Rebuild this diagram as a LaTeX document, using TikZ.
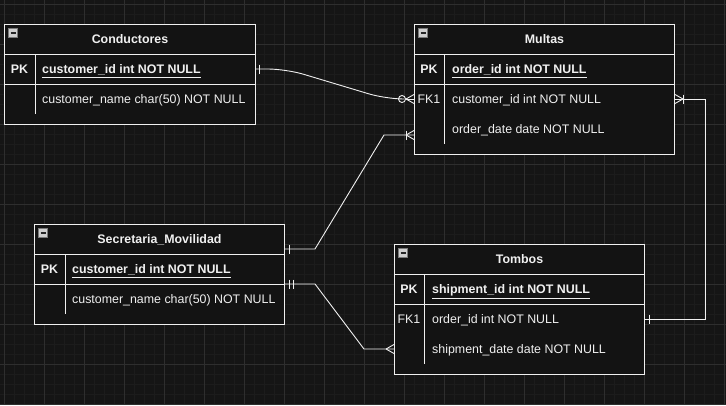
\documentclass[tikz,border=0pt]{standalone}
\usepackage{fontspec}
\setmainfont{Liberation Sans}
\usetikzlibrary{calc}
\definecolor{bg}{HTML}{151515}
\definecolor{minorg}{HTML}{1C1C1C}
\definecolor{majorg}{HTML}{2E2E2E}
\definecolor{boxfill}{HTML}{131313}
\definecolor{ln}{HTML}{F0F0F0}
\definecolor{iconfill}{HTML}{D0D0D0}
\definecolor{iconedge}{HTML}{7A7A7A}
\newcommand\pkfield[1]{\textbf{\underline{#1}}}
\begin{document}
\begin{tikzpicture}[x=1pt,y=-1pt,
  font=\fontsize{12.4}{14}\selectfont,
  tbl/.style={draw=ln, fill=boxfill, line width=1pt, inner sep=0pt, anchor=north west},
  sep/.style={draw=ln, line width=1pt},
  txt/.style={text=ln, inner sep=0pt, text height=8.6pt, text depth=0pt, yshift=-0.6pt},
  hdr/.style={txt, font=\fontsize{12.4}{14}\selectfont\bfseries},
  keyb/.style={txt, font=\fontsize{12.4}{14}\selectfont\bfseries},
  keyn/.style={txt},
  fld/.style={txt, anchor=west},
  conn/.style={draw=ln, line width=0.9pt},
  icon/.style={draw=iconedge, fill=iconfill, line width=0.6pt},
  iconbar/.style={draw=black!85, line width=1.6pt}]
\useasboundingbox (0,0) rectangle (726,405);
\fill[bg] (0,0) rectangle (726,405);
\foreach \x in {4,14,...,724} \draw[minorg, line width=0.8pt] (\x,0) -- (\x,405);
\foreach \y in {4,14,...,404} \draw[minorg, line width=0.8pt] (0,\y) -- (726,\y);
\foreach \x in {4,44,...,724} \draw[majorg, line width=0.8pt] (\x,0) -- (\x,405);
\foreach \y in {4,44,...,404} \draw[majorg, line width=0.8pt] (0,\y) -- (726,\y);

% ---------- Conductores ----------
\node[tbl, minimum width=251pt, minimum height=100pt] (cond) at (4,24) {};
\draw[sep] ($(cond.north west)+(0,30)$) -- ($(cond.north east)+(0,30)$);
\draw[sep] ($(cond.north west)+(0,60)$) -- ($(cond.north east)+(0,60)$);
\draw[sep] ($(cond.north west)+(31,30)$) -- ($(cond.north west)+(31,90)$);
\draw[icon] ($(cond.north west)+(4.5,4.5)$) rectangle ++(9,9);
\draw[iconbar] ($(cond.north west)+(6.5,9)$) -- ++(5,0);
\node[hdr] (condh) at ($(cond.north)+(0,15)$) {Conductores};
\node[keyb] (condk) at ($(cond.north west)+(15.5,45)$) {PK};
\node[fld] (condpk) at ($(cond.north west)+(38,45)$) {\pkfield{customer\_id int NOT NULL}};
\node[fld] (condf2) at ($(cond.north west)+(38,75)$) {customer\_name char(50) NOT NULL};

% ---------- Multas ----------
\node[tbl, minimum width=260pt, minimum height=130pt] (mul) at (414,24) {};
\draw[sep] ($(mul.north west)+(0,30)$) -- ($(mul.north east)+(0,30)$);
\draw[sep] ($(mul.north west)+(0,60)$) -- ($(mul.north east)+(0,60)$);
\draw[sep] ($(mul.north west)+(30,30)$) -- ($(mul.north west)+(30,120)$);
\draw[icon] ($(mul.north west)+(4.5,4.5)$) rectangle ++(9,9);
\draw[iconbar] ($(mul.north west)+(6.5,9)$) -- ++(5,0);
\node[hdr] (mulh) at ($(mul.north)+(0,15)$) {Multas};
\node[keyb] (mulk1) at ($(mul.north west)+(15,45)$) {PK};
\node[keyn] (mulk2) at ($(mul.north west)+(15,75)$) {FK1};
\node[fld] (mulpk) at ($(mul.north west)+(38,45)$) {\pkfield{order\_id int NOT NULL}};
\node[fld] (mulfk) at ($(mul.north west)+(38,75)$) {customer\_id int NOT NULL};
\node[fld] (muldate) at ($(mul.north west)+(38,105)$) {order\_date date NOT NULL};

% ---------- Secretaria_Movilidad ----------
\node[tbl, minimum width=250pt, minimum height=100pt] (sec) at (34,224) {};
\draw[sep] ($(sec.north west)+(0,30)$) -- ($(sec.north east)+(0,30)$);
\draw[sep] ($(sec.north west)+(0,60)$) -- ($(sec.north east)+(0,60)$);
\draw[sep] ($(sec.north west)+(31,30)$) -- ($(sec.north west)+(31,90)$);
\draw[icon] ($(sec.north west)+(4.5,4.5)$) rectangle ++(9,9);
\draw[iconbar] ($(sec.north west)+(6.5,9)$) -- ++(5,0);
\node[hdr] (sech) at ($(sec.north)+(0,15)$) {Secretaria\_Movilidad};
\node[keyb] (seck) at ($(sec.north west)+(15.5,45)$) {PK};
\node[fld] (secpk) at ($(sec.north west)+(38,45)$) {\pkfield{customer\_id int NOT NULL}};
\node[fld] (secf2) at ($(sec.north west)+(38,75)$) {customer\_name char(50) NOT NULL};

% ---------- Tombos ----------
\node[tbl, minimum width=250pt, minimum height=130pt] (tom) at (394,244) {};
\draw[sep] ($(tom.north west)+(0,30)$) -- ($(tom.north east)+(0,30)$);
\draw[sep] ($(tom.north west)+(0,60)$) -- ($(tom.north east)+(0,60)$);
\draw[sep] ($(tom.north west)+(30,30)$) -- ($(tom.north west)+(30,120)$);
\draw[icon] ($(tom.north west)+(4.5,4.5)$) rectangle ++(9,9);
\draw[iconbar] ($(tom.north west)+(6.5,9)$) -- ++(5,0);
\node[hdr] (tomh) at ($(tom.north)+(0,15)$) {Tombos};
\node[keyb] (tomk1) at ($(tom.north west)+(15,45)$) {PK};
\node[keyn] (tomk2) at ($(tom.north west)+(15,75)$) {FK1};
\node[fld] (tompk) at ($(tom.north west)+(38,45)$) {\pkfield{shipment\_id int NOT NULL}};
\node[fld] (tomfk) at ($(tom.north west)+(38,75)$) {order\_id int NOT NULL};
\node[fld] (tomdate) at ($(tom.north west)+(38,105)$) {shipment\_date date NOT NULL};

% ---------- Connector 1: Conductores -> Multas (one to zero-or-many) ----------
\coordinate (c1a) at ($(cond.north east)+(0,45)$);
\coordinate (c1b) at ($(mul.north west)+(0,75)$);
\draw[conn, rounded corners=18pt] (c1a) -- ($(c1a)+(30,0)$) -- ($(c1b)+(-28,0)$) -- ($(c1b)+(-15.5,0)$);
\draw[conn] ($(c1a)+(3.5,-4.5)$) -- ($(c1a)+(3.5,4.5)$);
\draw[conn] ($(c1b)+(-12,0)$) circle (3.5pt);
\draw[conn] ($(c1b)+(-8.5,0)$) -- (c1b);
\draw[conn] ($(c1b)+(-8,0)$) -- ($(c1b)+(0,-4.5)$);
\draw[conn] ($(c1b)+(-8,0)$) -- ($(c1b)+(0,4.5)$);

% ---------- Connector 2: Secretaria -> Multas (one to one-or-many) ----------
\coordinate (c2a) at ($(sec.north east)+(0,25)$);
\coordinate (c2b) at ($(mul.south west)+(0,-20)$);
\draw[conn] (c2a) -- ($(c2a)+(30,0)$) -- ($(c2b)+(-30,0)$) -- (c2b);
\draw[conn] ($(c2a)+(4,-4.5)$) -- ($(c2a)+(4,4.5)$);
\draw[conn] ($(c2b)+(-8,-4.5)$) -- ($(c2b)+(-8,4.5)$);
\draw[conn] ($(c2b)+(-8,0)$) -- ($(c2b)+(0,-4.5)$);
\draw[conn] ($(c2b)+(-8,0)$) -- ($(c2b)+(0,4.5)$);

% ---------- Connector 3: Secretaria -> Tombos (mandatory one to many) ----------
\coordinate (c3a) at ($(sec.north east)+(0,60)$);
\coordinate (c3b) at ($(tom.north west)+(0,105)$);
\draw[conn] (c3a) -- ($(c3a)+(30,0)$) -- ($(c3b)+(-30,0)$) -- (c3b);
\draw[conn] ($(c3a)+(4,-4.5)$) -- ($(c3a)+(4,4.5)$);
\draw[conn] ($(c3a)+(8,-4.5)$) -- ($(c3a)+(8,4.5)$);
\draw[conn] ($(c3b)+(-8,0)$) -- ($(c3b)+(0,-4.5)$);
\draw[conn] ($(c3b)+(-8,0)$) -- ($(c3b)+(0,4.5)$);

% ---------- Connector 4: Tombos -> Multas (one to one-or-many) ----------
\coordinate (c4a) at ($(tom.north east)+(0,75)$);
\coordinate (c4b) at ($(mul.north east)+(0,75)$);
\draw[conn] (c4a) -- ($(c4a)+(60,0)$) -- ($(c4b)+(30,0)$) -- (c4b);
\draw[conn] ($(c4a)+(4,-4.5)$) -- ($(c4a)+(4,4.5)$);
\draw[conn] ($(c4b)+(8,-4.5)$) -- ($(c4b)+(8,4.5)$);
\draw[conn] ($(c4b)+(8,0)$) -- ($(c4b)+(0,-4.5)$);
\draw[conn] ($(c4b)+(8,0)$) -- ($(c4b)+(0,4.5)$);
\end{tikzpicture}
\end{document}
